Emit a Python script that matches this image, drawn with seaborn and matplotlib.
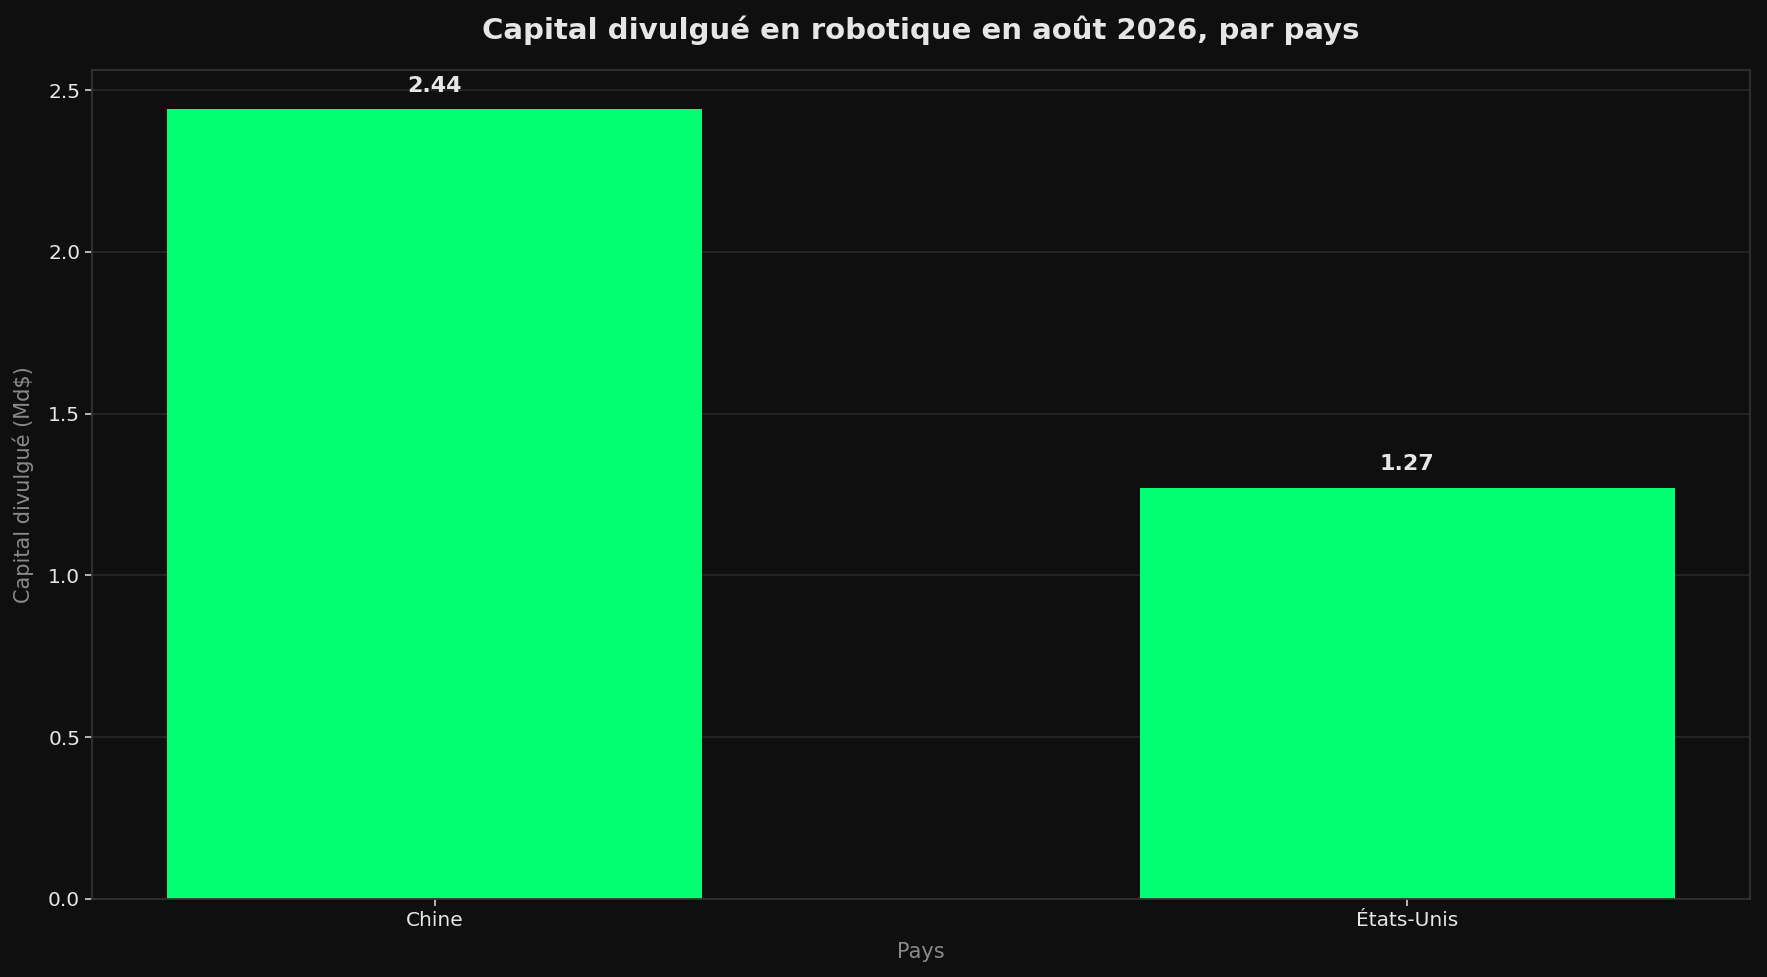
import matplotlib
matplotlib.use("Agg")
import matplotlib.pyplot as plt
import seaborn as sns
import pandas as pd

pays = ["Chine", "États-Unis"]
capital = [2.44, 1.27]

df = pd.DataFrame({"Pays": pays, "Capital": capital})

bg = "#0f0f0f"
sns.set_theme(style="darkgrid")
plt.rcParams["font.family"] = ["DejaVu Sans"]

fig, ax = plt.subplots(figsize=(17.67, 9.77), dpi=100)
fig.patch.set_facecolor(bg)
ax.set_facecolor(bg)

sns.barplot(data=df, x="Pays", y="Capital", color="#00ff73", saturation=1,
            width=0.55, edgecolor="none", linewidth=0, ax=ax)

# valeurs au-dessus des barres
for i, v in enumerate(capital):
    ax.annotate(f"{v:.2f}", (i, v), xytext=(0, 10), textcoords="offset points",
                ha="center", va="bottom", fontsize=16, fontweight="bold", color="#e6e6e6")

ax.set_title("Capital divulgué en robotique en août 2026, par pays", fontsize=21,
             fontweight="bold", color="#e6e6e6", pad=22)
ax.set_xlabel("Pays", fontsize=15, color="#8a8a8a", labelpad=9)
ax.set_ylabel("Capital divulgué (Md$)", fontsize=15, color="#8a8a8a", labelpad=10)
ax.tick_params(labelcolor="#e6e6e6", labelsize=14.5, length=5, color="#cccccc",
               bottom=True, left=True)
ax.grid(True, axis="y", color="#2a2a2a", linewidth=1.1)
ax.grid(False, axis="x")
for s in ax.spines.values():
    s.set_visible(True)
    s.set_color("#333333")
ax.margins(x=0.05, y=0.05)

fig.subplots_adjust(left=92 / 1767, right=1750 / 1767, top=1 - 70 / 977, bottom=1 - 899 / 977)
fig.savefig("out.png", dpi=100, facecolor=bg)
